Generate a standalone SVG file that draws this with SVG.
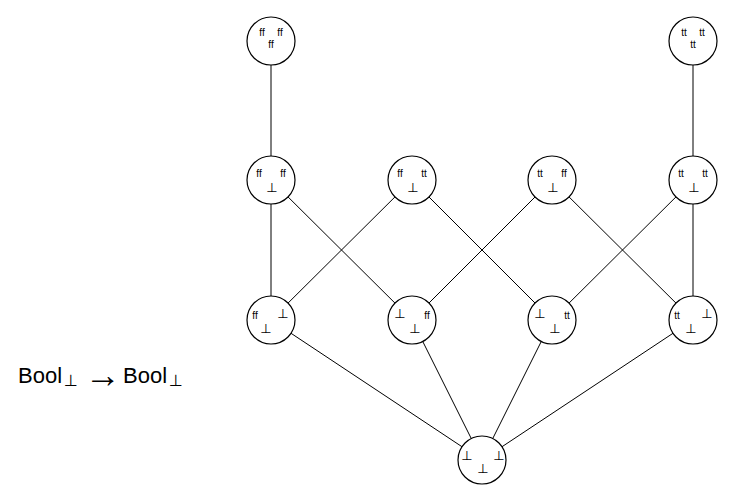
<svg xmlns="http://www.w3.org/2000/svg" width="735" height="495" viewBox="0 0 735 495">
<style>
.n{fill:#fff;stroke:#000;stroke-width:1.2}
.e{stroke:#000;stroke-width:1;fill:none}
.v{font-family:"Liberation Sans",Arial,sans-serif;font-size:10px;fill:#000;text-anchor:middle}
.b{font-family:"DejaVu Sans","Liberation Sans",sans-serif;font-size:13px;fill:#000;text-anchor:middle}
.l{font-family:"Liberation Sans",Arial,sans-serif;font-size:22px;fill:#000}
.s{font-family:"DejaVu Sans",sans-serif;font-size:16px}
.a{font-family:"Liberation Serif","DejaVu Serif",serif;font-size:36px}
</style>
<rect width="735" height="495" fill="#fff"/>
<g id="edges">
<line class="e" x1="271" y1="41" x2="271" y2="180"/>
<line class="e" x1="693" y1="41" x2="693" y2="180"/>
<line class="e" x1="271" y1="180" x2="271" y2="320"/>
<line class="e" x1="271" y1="180" x2="412" y2="320"/>
<line class="e" x1="412" y1="180" x2="271" y2="320"/>
<line class="e" x1="412" y1="180" x2="552" y2="320"/>
<line class="e" x1="552" y1="180" x2="412" y2="320"/>
<line class="e" x1="552" y1="180" x2="693" y2="320"/>
<line class="e" x1="693" y1="180" x2="552" y2="320"/>
<line class="e" x1="693" y1="180" x2="693" y2="320"/>
<line class="e" x1="271" y1="320" x2="482" y2="460"/>
<line class="e" x1="412" y1="320" x2="482" y2="460"/>
<line class="e" x1="552" y1="320" x2="482" y2="460"/>
<line class="e" x1="693" y1="320" x2="482" y2="460"/>
</g>
<g id="n_ffffff">
<circle class="n" cx="271" cy="41" r="24"/>
<text class="v" x="262" y="36">ff</text><text class="v" x="280" y="36">ff</text><text class="v" x="271" y="48">ff</text>
</g>
<g id="n_tttttt">
<circle class="n" cx="693" cy="41" r="24"/>
<text class="v" x="684" y="36">tt</text><text class="v" x="702" y="36">tt</text><text class="v" x="693" y="48">tt</text>
</g>
<g id="n_ffff_b">
<circle class="n" cx="271" cy="180" r="24"/>
<text class="v" x="259" y="177">ff</text><text class="v" x="283" y="177">ff</text><text class="b" x="272" y="192">⊥</text>
</g>
<g id="n_fftt_b">
<circle class="n" cx="412" cy="180" r="24"/>
<text class="v" x="400" y="177">ff</text><text class="v" x="424" y="177">tt</text><text class="b" x="413" y="192">⊥</text>
</g>
<g id="n_ttff_b">
<circle class="n" cx="552" cy="180" r="24"/>
<text class="v" x="540" y="177">tt</text><text class="v" x="564" y="177">ff</text><text class="b" x="553" y="192">⊥</text>
</g>
<g id="n_tttt_b">
<circle class="n" cx="693" cy="180" r="24"/>
<text class="v" x="681" y="177">tt</text><text class="v" x="705" y="177">tt</text><text class="b" x="694" y="192">⊥</text>
</g>
<g id="n_ff_b_b">
<circle class="n" cx="271" cy="320" r="24"/>
<text class="v" x="255" y="319">ff</text><text class="b" x="283" y="318">⊥</text><text class="b" x="266" y="333">⊥</text>
</g>
<g id="n_b_ff_b">
<circle class="n" cx="412" cy="320" r="24"/>
<text class="b" x="400" y="318">⊥</text><text class="v" x="427" y="319">ff</text><text class="b" x="415" y="333">⊥</text>
</g>
<g id="n_b_tt_b">
<circle class="n" cx="552" cy="320" r="24"/>
<text class="b" x="540" y="318">⊥</text><text class="v" x="567" y="319">tt</text><text class="b" x="555" y="333">⊥</text>
</g>
<g id="n_tt_b_b">
<circle class="n" cx="693" cy="320" r="24"/>
<text class="v" x="677" y="319">tt</text><text class="b" x="707" y="318">⊥</text><text class="b" x="691" y="333">⊥</text>
</g>
<g id="n_bottom">
<circle class="n" cx="482" cy="460" r="24"/>
<text class="b" x="467" y="460">⊥</text><text class="b" x="499" y="460">⊥</text><text class="b" x="483" y="473">⊥</text>
</g>
<g id="label">
<text class="l" y="383"><tspan x="18">Bool</tspan><tspan class="s" x="64" y="386">⊥</tspan><tspan class="a" x="85" y="387">→</tspan><tspan x="123" y="383">Bool</tspan><tspan class="s" x="169" y="386">⊥</tspan></text>
</g>
</svg>
